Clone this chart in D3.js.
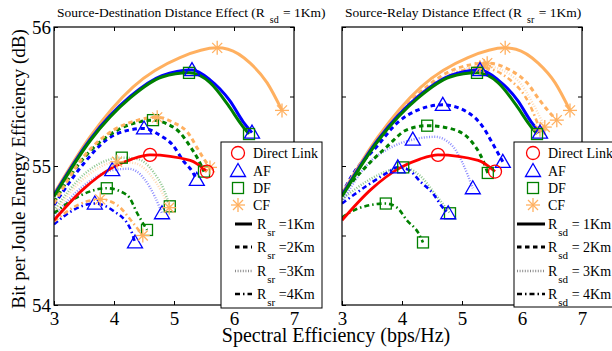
<!DOCTYPE html>
<html>
<head>
<meta charset="utf-8">
<script src="https://cdn.jsdelivr.net/npm/d3@7"></script>
<style>
  body { margin: 0; background: #fff; }
  svg { display: block; font-family: "Liberation Serif", "Times New Roman", serif; }
</style>
</head>
<body>
<svg id="chart" width="612" height="351"></svg>
<script>
// ---- data ----
const xTicks = [3, 4, 5, 6, 7];
const yTicks = [54, 54.5, 55, 55.5, 56];
const yLabels = [54, 55, 56];
const methods = ["Direct Link", "AF", "DF", "CF"];
const distances = ["1Km", "2Km", "3Km", "4Km"];

// shared by both panels
const directLink = [[3,54.61],[3.48,54.83],[3.98,54.99],[4.3,55.05],[4.6,55.08],[5.27,55.04],[5.55,54.96]];
const af1 = [[3,54.79],[3.6,55.19],[4.27,55.5],[4.8,55.65],[5.3,55.69],[5.6,55.62],[5.93,55.47],[6.15,55.32],[6.3,55.24]];
const df1 = [[3,54.78],[3.6,55.18],[4.27,55.49],[4.8,55.64],[5.25,55.67],[5.6,55.6],[5.9,55.44],[6.12,55.3],[6.25,55.23]];
const cf1 = [[3,54.8],[3.6,55.21],[4.32,55.57],[5.1,55.78],[5.72,55.85],[5.9,55.84],[6.27,55.74],[6.55,55.6],[6.8,55.4]];

// left panel: R_sr = 2, 3, 4 Km
const afL2 = [[3,54.72],[3.5,55.02],[3.88,55.19],[4.27,55.26],[4.5,55.27],[4.77,55.22],[4.98,55.15],[5.15,55.04],[5.32,54.95],[5.38,54.9]];
const dfL2 = [[3,54.74],[3.5,55.06],[3.88,55.21],[4.27,55.3],[4.65,55.33],[4.9,55.3],[5.1,55.24],[5.27,55.14],[5.4,55.05],[5.5,54.96]];
const cfL2 = [[3,54.73],[3.5,55.07],[4.0,55.26],[4.4,55.33],[4.72,55.35],[5.0,55.31],[5.23,55.24],[5.4,55.12],[5.5,55.05],[5.6,54.99]];
const afL3 = [[3,54.64],[3.5,54.86],[3.97,54.97],[4.25,54.98],[4.5,54.91],[4.68,54.78],[4.8,54.66]];
const dfL3 = [[3,54.68],[3.5,54.94],[4.13,55.06],[4.4,55.05],[4.65,54.96],[4.83,54.83],[4.93,54.71]];
const cfL3 = [[3,54.66],[3.5,54.91],[4.05,55.03],[4.35,55.02],[4.6,54.94],[4.8,54.81],[4.92,54.7]];
const afL4 = [[3,54.58],[3.35,54.69],[3.68,54.73],[3.98,54.68],[4.27,54.55],[4.35,54.45]];
const dfL4 = [[3,54.66],[3.45,54.79],[3.88,54.84],[4.22,54.79],[4.4,54.65],[4.55,54.54]];
const cfL4 = [[3,54.6],[3.4,54.72],[3.77,54.76],[4.05,54.72],[4.3,54.6],[4.48,54.5]];

// right panel: R_sd = 2, 3, 4 Km
const afR2 = [[3,54.8],[3.18,54.94],[3.58,55.14],[3.92,55.31],[4.25,55.4],[4.68,55.44],[5.08,55.39],[5.35,55.28],[5.5,55.17],[5.68,55.03]];
const dfR2 = [[3,54.8],[3.3,54.95],[3.75,55.14],[4.08,55.26],[4.42,55.29],[4.8,55.27],[5.13,55.19],[5.35,55.04],[5.43,54.95]];
const cfR2 = [[3,54.79],[3.6,55.19],[4.3,55.53],[4.9,55.7],[5.42,55.74],[5.8,55.69],[6.08,55.6],[6.3,55.47],[6.47,55.38],[6.58,55.33]];
const afR3 = [[3,54.74],[3.4,55.0],[3.8,55.13],[4.18,55.19],[4.55,55.21],[4.85,55.14],[5.0,55.03],[5.18,54.84]];
const dfR3 = [[3,54.76],[3.45,54.9],[3.8,54.97],[4.02,54.99],[4.3,54.93],[4.55,54.8],[4.8,54.66]];
const cfR3 = [[3,54.79],[3.6,55.19],[4.3,55.52],[4.9,55.68],[5.37,55.72],[5.92,55.62],[6.18,55.45],[6.38,55.28]];
const afR4 = [[3,54.73],[3.42,54.86],[3.75,54.95],[3.93,54.99],[4.12,54.97],[4.3,54.89],[4.52,54.8],[4.68,54.7],[4.77,54.66]];
const dfR4 = [[3,54.63],[3.3,54.7],[3.73,54.73],[3.92,54.7],[4.08,54.61],[4.27,54.52],[4.35,54.45]];
const cfR4 = [[3,54.79],[3.6,55.18],[4.3,55.51],[4.9,55.67],[5.3,55.71],[5.8,55.62],[6.13,55.44],[6.3,55.26]];

// ---- styles ----
const colors = { DL: "#ff0000", AF: "#0000ff", DF: "#008000", CF: "#ffb060" };
const lineStyle = {
  1: { w: 3, dash: null, op: 1 },
  2: { w: 3, dash: "4.5,3.5", op: 1 },
  3: { w: 2.4, dash: "1,1.6", op: 0.45 },
  4: { w: 2.6, dash: "5,3,1.5,3", op: 1 }
};

// series: data, kind, distance index, marker point indices
const leftSeries = [
  { d: afL3, k: "AF", r: 3, m: [2, 6] }, { d: dfL3, k: "DF", r: 3, m: [2, 6] }, { d: cfL3, k: "CF", r: 3, m: [2, 6] },
  { d: afL4, k: "AF", r: 4, m: [2, 5] }, { d: dfL4, k: "DF", r: 4, m: [2, 5] }, { d: cfL4, k: "CF", r: 4, m: [2, 5] },
  { d: afL2, k: "AF", r: 2, m: [4, 9] }, { d: dfL2, k: "DF", r: 2, m: [4, 9] }, { d: cfL2, k: "CF", r: 2, m: [4, 9] },
  { d: cf1, k: "CF", r: 1, m: [4, 8] }, { d: af1, k: "AF", r: 1, m: [4, 8] }, { d: df1, k: "DF", r: 1, m: [4, 8] },
  { d: directLink, k: "DL", r: 1, m: [4, 6] }
];
const rightSeries = [
  { d: afR3, k: "AF", r: 3, m: [3, 7] }, { d: dfR3, k: "DF", r: 3, m: [3, 6] }, { d: cfR3, k: "CF", r: 3, m: [4, 7] },
  { d: afR4, k: "AF", r: 4, m: [3, 8] }, { d: dfR4, k: "DF", r: 4, m: [2, 6] }, { d: cfR4, k: "CF", r: 4, m: [4, 7] },
  { d: afR2, k: "AF", r: 2, m: [5, 9] }, { d: dfR2, k: "DF", r: 2, m: [4, 8] }, { d: cfR2, k: "CF", r: 2, m: [4, 9] },
  { d: cf1, k: "CF", r: 1, m: [4, 8] }, { d: af1, k: "AF", r: 1, m: [4, 8] }, { d: df1, k: "DF", r: 1, m: [4, 8] },
  { d: directLink, k: "DL", r: 1, m: [4, 6] }
];

const panels = [
  { id: "L", x0: 54, x1: 294, series: leftSeries, yLab: true,
    title: ["Source-Destination Distance Effect (R", "sd", " = 1Km)"], tx: 57,
    leg: { x: 221, y: 142, w: 101, h: 166, mx: 238, tx: 253, lx0: 235, lx1: 252, rx: 257, sub: "sr", eq: " =" } },
  { id: "R", x0: 342, x1: 582, series: rightSeries, yLab: false,
    title: ["Source-Relay Distance Effect (R", "sr", " = 1Km)"], tx: 345,
    leg: { x: 514, y: 142, w: 110, h: 165, mx: 533, tx: 548, lx0: 517, lx1: 545, rx: 548, sub: "sd", eq: " = " } }
];

const svg = d3.select("#chart");
const y = d3.scaleLinear().domain([54, 56]).range([305, 27]);

function drawMarker(g, kind, cx, cy) {
  const c = colors[kind];
  const m = g.append("g").attr("transform", `translate(${cx},${cy})`)
    .attr("fill", "none").attr("stroke", c).attr("stroke-width", 1.3);
  if (kind === "DL") m.append("circle").attr("r", 6.5);
  if (kind === "AF") m.append("path").attr("d", "M0,-7.5L7.5,5.5L-7.5,5.5Z");
  if (kind === "DF") m.append("rect").attr("x", -5.5).attr("y", -5.5).attr("width", 11).attr("height", 11);
  if (kind === "CF") {
    [[0, -7, 0, 7], [-7, 0, 7, 0], [-5, -5, 5, 5], [-5, 5, 5, -5]].forEach(l =>
      m.append("line").attr("x1", l[0]).attr("y1", l[1]).attr("x2", l[2]).attr("y2", l[3]));
  }
}

panels.forEach(p => {
  const x = d3.scaleLinear().domain([3, 7]).range([p.x0, p.x1]);
  const g = svg.append("g");

  g.append("clipPath").attr("id", "clip" + p.id)
    .append("rect").attr("x", p.x0).attr("y", 27).attr("width", p.x1 - p.x0).attr("height", 278);

  const line = d3.line().x(d => x(d[0])).y(d => y(d[1])).curve(d3.curveMonotoneX);
  const lines = g.append("g").attr("clip-path", `url(#clip${p.id})`);
  p.series.forEach(s => {
    const st = s.k === "DL" ? { w: 2.8, dash: null, op: 1 } : lineStyle[s.r];
    lines.append("path").datum(s.d).attr("d", line)
      .attr("fill", "none").attr("stroke", colors[s.k])
      .attr("stroke-width", st.w).attr("stroke-opacity", st.op)
      .attr("stroke-dasharray", st.dash);
  });
  const marks = g.append("g");
  p.series.forEach(s => s.m.forEach(i => drawMarker(marks, s.k, x(s.d[i][0]), y(s.d[i][1]))));

  // axes (ticks pointing inward), box drawn separately
  const fmtY = d => (p.yLab && yLabels.includes(d)) ? d : "";
  const axes = [
    g.append("g").attr("transform", "translate(0,305)")
      .call(d3.axisBottom(x).tickValues(xTicks).tickSizeInner(-4).tickSizeOuter(0).tickPadding(7).tickFormat(d3.format("d"))),
    g.append("g").attr("transform", "translate(0,27)")
      .call(d3.axisTop(x).tickValues(xTicks).tickSizeInner(-4).tickSizeOuter(0).tickFormat("")),
    g.append("g").attr("transform", `translate(${p.x0},0)`)
      .call(d3.axisLeft(y).tickValues(yTicks).tickSizeInner(-4).tickSizeOuter(0).tickPadding(3).tickFormat(fmtY)),
    g.append("g").attr("transform", `translate(${p.x1},0)`)
      .call(d3.axisRight(y).tickValues(yTicks).tickSizeInner(-4).tickSizeOuter(0).tickFormat(""))
  ];
  axes.forEach(a => {
    a.select(".domain").remove();
    a.attr("font-family", null).attr("font-size", 19);
    a.selectAll("text").attr("fill", "#000");
    a.selectAll("line").attr("stroke", "#000");
  });
  g.append("rect").attr("x", p.x0).attr("y", 27).attr("width", p.x1 - p.x0).attr("height", 278)
    .attr("fill", "none").attr("stroke", "#000").attr("stroke-width", 1.2);

  // title
  const t = g.append("text").attr("x", p.tx).attr("y", 17).attr("font-size", 13.5);
  t.append("tspan").text(p.title[0]);
  t.append("tspan").attr("dx", 5).attr("dy", 6).attr("font-size", 10).text(p.title[1]);
  t.append("tspan").attr("dx", 1).attr("dy", -6).text(p.title[2]);

  // legend
  const L = p.leg;
  const lg = svg.append("g");
  lg.append("rect").attr("x", L.x).attr("y", L.y).attr("width", L.w).attr("height", L.h)
    .attr("fill", "#fff").attr("stroke", "#000").attr("stroke-width", 1);
  const rowY = [153, 171, 188, 205];
  methods.forEach((name, i) => {
    drawMarker(lg, ["DL", "AF", "DF", "CF"][i], L.mx, rowY[i]);
    lg.append("text").attr("x", L.tx).attr("y", rowY[i] + 5).attr("font-size", 14).text(name);
  });
  const lineY = [224, 247, 271, 294];
  distances.forEach((dist, i) => {
    const st = lineStyle[i + 1];
    lg.append("line").attr("x1", L.lx0).attr("x2", L.lx1).attr("y1", lineY[i]).attr("y2", lineY[i])
      .attr("stroke", "#000").attr("stroke-width", st.w).attr("stroke-opacity", st.op)
      .attr("stroke-dasharray", st.dash);
    const tx = lg.append("text").attr("x", L.rx).attr("y", lineY[i] + 5).attr("font-size", 14);
    tx.append("tspan").text("R");
    tx.append("tspan").attr("dx", 1).attr("dy", 7).attr("font-size", 11).text(L.sub);
    tx.append("tspan").attr("dy", -7).text(L.eq + dist);
  });
});

// axis titles
svg.append("text").attr("x", 336).attr("y", 342).attr("text-anchor", "middle")
  .attr("font-size", 20).text("Spectral Efficiency (bps/Hz)");
svg.append("text").attr("transform", "translate(25,169) rotate(-90)").attr("text-anchor", "middle")
  .attr("font-size", 19).text("Bit per Joule Energy Efficiency (dB)");
</script>
</body>
</html>
